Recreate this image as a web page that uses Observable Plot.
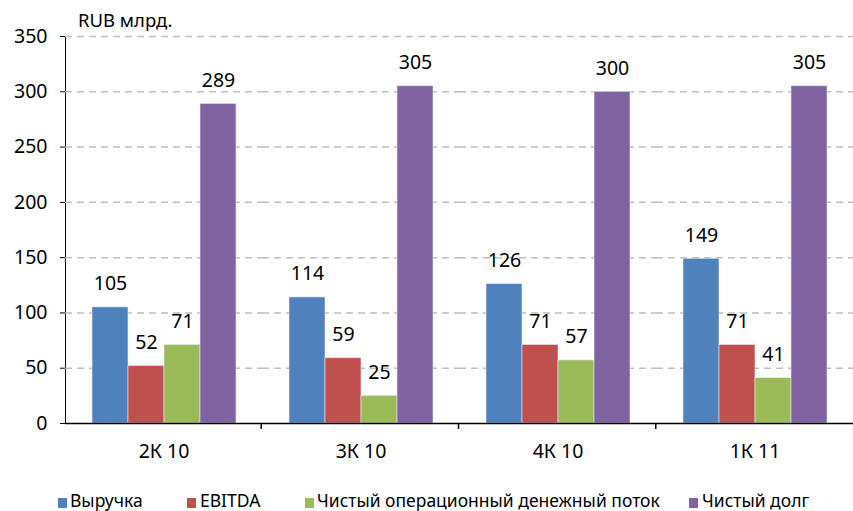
<!DOCTYPE html>
<html>
<head>
<meta charset="utf-8">
<script src="https://cdn.jsdelivr.net/npm/d3@7"></script>
<script src="https://cdn.jsdelivr.net/npm/@observablehq/plot@0.6"></script>
<style>
  html, body { margin: 0; padding: 0; background: #fff; }
  body { font-family: "Noto Sans", "Open Sans", sans-serif; }
  #wrap { position: relative; width: 853px; height: 511px; overflow: hidden; }
  #unit { position: absolute; left: 78px; top: 8px; font-size: 18.5px; line-height: 24px; color: #000; }
  #chart { position: absolute; left: 0; top: 0; }
  .leg { position: absolute; top: 492px; font-size: 17.5px; line-height: 17px; color: #000; white-space: nowrap; }
  .sw { position: absolute; top: 498px; width: 9px; height: 10px; }
</style>
</head>
<body>
<div id="wrap">
  <div id="chart"></div>
  <div id="unit">RUB млрд.</div>
  <div id="legend"></div>
</div>
<script>
const quarters = ["2К 10", "3К 10", "4К 10", "1К 11"];
const seriesNames = ["Выручка", "EBITDA", "Чистый операционный денежный поток", "Чистый долг"];
const colors = ["#4F81BD", "#C0504D", "#9BBB59", "#8064A2"];
const revenue = [105, 114, 126, 149];
const ebitda = [52, 59, 71, 71];
const opCashFlow = [71, 25, 57, 41];
const netDebt = [289, 305, 300, 305];
const yTicks = [0, 50, 100, 150, 200, 250, 300, 350];

const seriesValues = [revenue, ebitda, opCashFlow, netDebt];
const data = [];
quarters.forEach((q, i) => {
  seriesNames.forEach((s, j) => {
    data.push({quarter: q, series: s, value: seriesValues[j][i]});
  });
});

const chart = Plot.plot({
  width: 853,
  height: 480,
  marginLeft: 64,
  marginRight: 0,
  marginTop: 36,
  marginBottom: 57,
  style: {fontFamily: "'Noto Sans', 'Open Sans', sans-serif", fontSize: "19.5px", color: "#000", background: "transparent"},
  fx: {domain: quarters, padding: 0, label: null, tickSize: 0, tickPadding: 21},
  x: {domain: seriesNames, paddingInner: 0, paddingOuter: 0.7, axis: null},
  y: {domain: [0, 350], ticks: yTicks, tickSize: 5, tickPadding: 13, line: true, label: null},
  color: {domain: seriesNames, range: colors},
  marks: [
    Plot.gridY(yTicks.filter(d => d > 0), {stroke: "#bfbfbf", strokeOpacity: 1, strokeWidth: 1.5, strokeDasharray: "7,5"}),
    Plot.barY(data, {fx: "quarter", x: "series", y: "value", fill: "series", stroke: "#e8e8f0", strokeWidth: 0.6, inset: 0}),
    Plot.text(data, {fx: "quarter", x: "series", y: "value", text: d => String(d.value), dy: -17, lineAnchor: "bottom", fontSize: 19.5, fill: "#000"}),
    Plot.ruleY([0], {stroke: "#000", strokeWidth: 1.5})
  ]
});
document.getElementById("chart").appendChild(chart);

// boundary ticks between categories, placed with the library's fx scale
const fx = chart.scale("fx");
const y = chart.scale("y");
const n = fx.domain.length;
const r0 = fx.range[0], r1 = fx.range[1];
const step = (r1 - r0) / n;
const y0 = y.apply ? y.apply(0) : 423;
const bounds = d3.range(n + 1).map(i => r0 + i * step);
const svg = d3.select(chart.tagName.toLowerCase() === "svg" ? chart : chart.querySelector("svg"));
svg.append("g").selectAll("line").data(bounds.slice(1, n)).join("line")
  .attr("x1", d => d).attr("x2", d => d)
  .attr("y1", y0).attr("y2", y0 + 6)
  .attr("stroke", "#000").attr("stroke-width", 1.5);

// legend
const legendPos = [{sw: 58, tx: 70}, {sw: 187, tx: 200}, {sw: 305, tx: 317}, {sw: 689, tx: 702}];
const leg = document.getElementById("legend");
seriesNames.forEach((s, i) => {
  const sw = document.createElement("div");
  sw.className = "sw";
  sw.style.left = legendPos[i].sw + "px";
  sw.style.background = colors[i];
  leg.appendChild(sw);
  const t = document.createElement("div");
  t.className = "leg";
  t.style.left = legendPos[i].tx + "px";
  t.textContent = s;
  leg.appendChild(t);
});
</script>
</body>
</html>
